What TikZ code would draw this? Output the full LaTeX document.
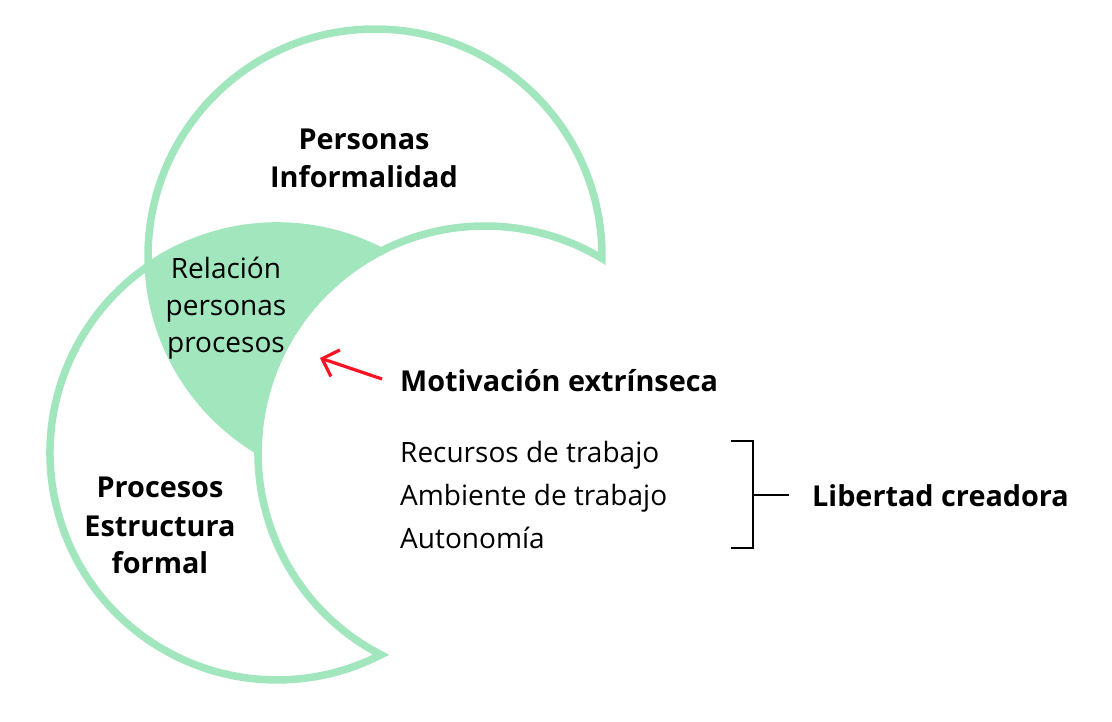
\documentclass[tikz,border=0pt]{standalone}
\usepackage{fontspec}
\setmainfont{Open Sans}
\usetikzlibrary{arrows.meta}
\definecolor{mint}{RGB}{161,230,189}
\definecolor{arrowred}{RGB}{250,20,35}
\begin{document}
\begin{tikzpicture}[x=1pt,y=1pt,
  crescent/.style={draw=mint, line width=7.5pt, line join=miter},
  lens/.style={fill=mint},
  boldlbl/.style={inner sep=0pt, font=\fontsize{28.8}{36}\selectfont\bfseries},
  reglbl/.style={inner sep=0pt, font=\fontsize{28}{36}\selectfont},
  redarrow/.style={draw=arrowred, line width=3.2pt, -{Straight Barb[length=14pt,width=28pt,line width=3.2pt]}},
  bracketline/.style={draw=black, line width=2.8pt}
]
\useasboundingbox (0,0) rectangle (1112,722);
% circle centres (radius 227)
\coordinate (C1) at (375,466);
\coordinate (C2) at (277,269);
\coordinate (C3) at (485,269);
% intersection points
\coordinate (P1) at (601.98,463.53);
\coordinate (P2) at (258.02,271.47);
\coordinate (Q1) at (381,470.78);
\coordinate (Q2) at (381,67.22);
\coordinate (R2) at (148.23,455.94);
% shared region
\fill[lens] (R2) arc[start angle=124.56, end angle=62.73, radius=227]
  arc[start angle=117.27, end angle=179.38, radius=227]
  arc[start angle=238.98, end angle=182.54, radius=227] -- cycle;
% top crescent
\draw[crescent] (P1) arc[start angle=-0.62, end angle=238.98, radius=227]
  arc[start angle=179.38, end angle=58.98, radius=227] -- cycle;
% bottom crescent
\draw[crescent] (Q1) arc[start angle=62.73, end angle=297.27, radius=227]
  arc[start angle=242.73, end angle=117.27, radius=227] -- cycle;
% labels
\node[boldlbl, anchor=base] (pers) at (364,572) {Personas};
\node[boldlbl, anchor=base] (inf) at (364,534) {Informalidad};
\node[reglbl, anchor=base] (rel) at (226,443) {Relación};
\node[reglbl, anchor=base] (relp) at (226,406) {personas};
\node[reglbl, anchor=base] (relq) at (226,369) {procesos};
\node[boldlbl, anchor=base] (proc) at (160,224) {Procesos};
\node[boldlbl, anchor=base] (estr) at (160,185) {Estructura};
\node[boldlbl, anchor=base] (form) at (160,148) {formal};
\node[boldlbl, anchor=base west] (mot) at (400,330) {Motivación extrínseca};
\node[reglbl, anchor=base west] (rec) at (400,259) {Recursos de trabajo};
\node[reglbl, anchor=base west] (amb) at (400,216) {Ambiente de trabajo};
\node[reglbl, anchor=base west] (aut) at (400,173) {Autonomía};
\node[boldlbl, anchor=base west] (lib) at (812,215) {Libertad creadora};
% arrow
\coordinate (atail) at (382,343);
\coordinate (ahead) at (320,364);
\draw[redarrow] (atail) -- (ahead);
% bracket
\coordinate (bt) at (731,281);
\coordinate (btr) at (753,281);
\coordinate (bb) at (731,174);
\coordinate (bbr) at (753,174);
\coordinate (bm) at (753,227);
\coordinate (bmr) at (789,227);
\draw[bracketline] (bt) -- (btr) -- (bbr) -- (bb);
\draw[bracketline] (bm) -- (bmr);
\end{tikzpicture}
\end{document}
